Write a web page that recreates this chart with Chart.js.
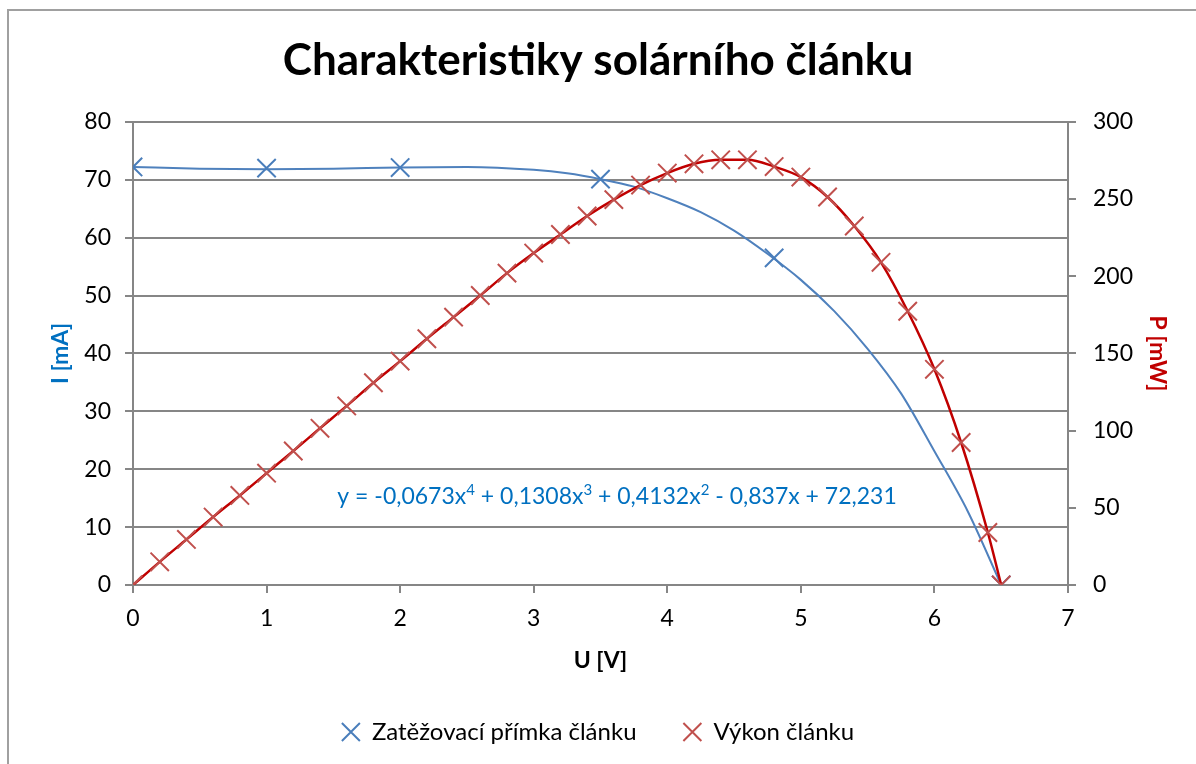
<!DOCTYPE html>
<html>
<head>
<meta charset="utf-8">
<script src="https://cdn.jsdelivr.net/npm/chart.js@4.4.0/dist/chart.umd.min.js"></script>
<style>
  html, body { margin: 0; padding: 0; background: #fff; }
</style>
</head>
<body>
<canvas id="chart" width="1196" height="764"></canvas>
<script>
// Zatěžovací přímka - naměřené body
var uMeasured = [0, 1, 2, 3.5, 4.8, 6.5];
var iMeasured = [72.2, 72.0, 72.1, 70.1, 56.5, 0];

// Trendline
var uTrend = [0, 0.5, 1, 1.5, 2, 2.5, 3, 3.25, 3.5, 3.75, 4, 4.25, 4.5, 4.75, 5, 5.25, 5.5, 5.75, 6, 6.25, 6.5];
var iTrend = [72.2, 71.9, 71.8, 71.9, 72.1, 72.2, 71.7, 71.1, 70.1, 68.8, 66.8, 64.4, 61.2, 57.2, 52.7, 47.3, 40.8, 33.1, 23.1, 12.7, 0];

// Výkon článku
var uPower = [0, 0.2, 0.4, 0.6, 0.8, 1.0, 1.2, 1.4, 1.6, 1.8, 2.0, 2.2, 2.4, 2.6, 2.8, 3.0, 3.2, 3.4, 3.6, 3.8, 4.0, 4.2, 4.4, 4.6, 4.8, 5.0, 5.2, 5.4, 5.6, 5.8, 6.0, 6.2, 6.4, 6.5];
var pPower = [0, 15, 29.5, 44, 58, 72.4, 86.8, 101.5, 116, 131, 145, 159.5, 173.5, 187.5, 202, 215, 227, 239, 249.6, 259, 266.8, 272.8, 275.4, 275.4, 271, 264.2, 251.3, 232.5, 209, 177.3, 139.7, 92.3, 34, 0];

var xTicks = [0, 7, 1];     // min, max, krok
var iTicks = [0, 80, 10];
var pTicks = [0, 300, 50];

var equationParts = [
    ["y = -0,0673x", ""], ["4", "sup"], [" + 0,1308x", ""], ["3", "sup"],
    [" + 0,4132x", ""], ["2", "sup"], [" - 0,837x + 72,231", ""]
];
var equationPos = [1.53, 15.3];

function toPoints(xs, ys) {
    return xs.map(function (x, i) { return {x: x, y: ys[i]}; });
}

var FONT = "Lato, 'Open Sans', sans-serif";
var GRID = "#868686";

// Rámeček grafu
var framePlugin = {
    id: "frame",
    beforeDraw: function (chart) {
        var ctx = chart.ctx;
        ctx.save();
        ctx.strokeStyle = "#a0a0a0";
        ctx.lineWidth = 2;
        ctx.beginPath();
        ctx.moveTo(8, 764);
        ctx.lineTo(8, 10);
        ctx.lineTo(1196, 10);
        ctx.stroke();
        ctx.restore();
    }
};

// Rovnice trendu
var equationPlugin = {
    id: "equation",
    afterDatasetsDraw: function (chart) {
        var ctx = chart.ctx;
        var x = chart.scales.x.getPixelForValue(equationPos[0]);
        var y = chart.scales.y.getPixelForValue(equationPos[1]);
        ctx.save();
        ctx.fillStyle = "#0070C0";
        ctx.textBaseline = "alphabetic";
        ctx.textAlign = "left";
        equationParts.forEach(function (part) {
            if (part[1] === "sup") {
                ctx.font = "15px " + FONT;
                ctx.fillText(part[0], x, y - 1);
            } else {
                ctx.font = "23px " + FONT;
                ctx.fillText(part[0], x, y + 8);
            }
            x += ctx.measureText(part[0]).width;
        });
        ctx.restore();
    }
};

var ctx = document.getElementById("chart").getContext("2d");
var myChart = new Chart(ctx, {
    type: "scatter",
    data: {
        datasets: [{
            label: "Zatěžovací přímka článku",
            data: toPoints(uMeasured, iMeasured),
            showLine: false,
            pointStyle: "crossRot",
            pointRadius: 13,
            pointBorderWidth: 2,
            borderColor: "#4A7EBB",
            backgroundColor: "#4A7EBB",
            yAxisID: "y",
            order: 2
        }, {
            label: "trend",
            data: toPoints(uTrend, iTrend),
            showLine: true,
            pointRadius: 0,
            borderColor: "#4F81BD",
            borderWidth: 2,
            cubicInterpolationMode: "monotone",
            yAxisID: "y",
            order: 3
        }, {
            label: "Výkon článku",
            data: toPoints(uPower, pPower),
            showLine: true,
            pointStyle: "crossRot",
            pointRadius: 13,
            pointBorderWidth: 2,
            pointBorderColor: "#C0504D",
            borderColor: "#C00000",
            backgroundColor: "#C0504D",
            borderWidth: 2.5,
            cubicInterpolationMode: "monotone",
            yAxisID: "y2",
            order: 1
        }]
    },
    options: {
        responsive: false,
        animation: false,
        layout: { padding: { top: 0, left: 0, right: 0, bottom: 10 } },
        plugins: {
            title: {
                display: true,
                text: "Charakteristiky solárního článku",
                color: "#000",
                font: { family: FONT, size: 44, weight: "bold", lineHeight: 1.2 },
                padding: { top: 34, bottom: 35 }
            },
            legend: {
                position: "bottom",
                labels: {
                    usePointStyle: true,
                    boxWidth: 18,
                    boxHeight: 18,
                    padding: 10,
                    color: "#000",
                    font: { family: FONT, size: 24 },
                    generateLabels: function (chart) {
                        var items = Chart.defaults.plugins.legend.labels.generateLabels(chart);
                        items = items.filter(function (it) { return it.datasetIndex !== 1; });
                        items.sort(function (a, b) { return a.datasetIndex - b.datasetIndex; });
                        items.forEach(function (it) {
                            var ds = chart.data.datasets[it.datasetIndex];
                            it.strokeStyle = ds.pointBorderColor || ds.borderColor;
                            it.lineWidth = 2;
                        });
                        items[0].text = items[0].text + "      ";
                        return items;
                    }
                }
            },
            tooltip: { enabled: false }
        },
        scales: {
            x: {
                type: "linear",
                position: "bottom",
                min: xTicks[0], max: xTicks[1],
                afterFit: function (scale) { scale.height = 125; },
                ticks: { stepSize: xTicks[2], color: "#000", padding: 12, font: { family: FONT, size: 23 } },
                grid: { drawOnChartArea: false, color: GRID, lineWidth: 2, tickLength: 8 },
                border: { color: GRID, width: 2 },
                title: {
                    display: true, text: "U [V]", color: "#000",
                    font: { family: FONT, size: 23, weight: "bold", lineHeight: 1.2 },
                    padding: { top: 0, bottom: 36 }
                }
            },
            y: {
                position: "left",
                min: iTicks[0], max: iTicks[1],
                afterFit: function (scale) { scale.width = 133; },
                ticks: { stepSize: iTicks[2], color: "#000", padding: 14, font: { family: FONT, size: 23 } },
                grid: { color: GRID, lineWidth: 2, tickLength: 8 },
                border: { color: GRID, width: 2 },
                title: {
                    display: true, text: "I [mA]", color: "#0070C0",
                    font: { family: FONT, size: 23, weight: "bold", lineHeight: 1.2 },
                    padding: { top: 47, bottom: 0 }
                }
            },
            y2: {
                position: "right",
                min: pTicks[0], max: pTicks[1],
                afterFit: function (scale) { scale.width = 128; },
                ticks: { stepSize: pTicks[2], color: "#000", padding: 17, font: { family: FONT, size: 23 } },
                grid: { drawOnChartArea: false, color: GRID, lineWidth: 2, tickLength: 8 },
                border: { color: GRID, width: 2 },
                title: {
                    display: true, text: "P [mW]", color: "#C00000",
                    font: { family: FONT, size: 23, weight: "bold", lineHeight: 1.2 },
                    padding: { top: 25, bottom: 0 }
                }
            }
        }
    },
    plugins: [framePlugin, equationPlugin]
});
</script>
</body>
</html>
